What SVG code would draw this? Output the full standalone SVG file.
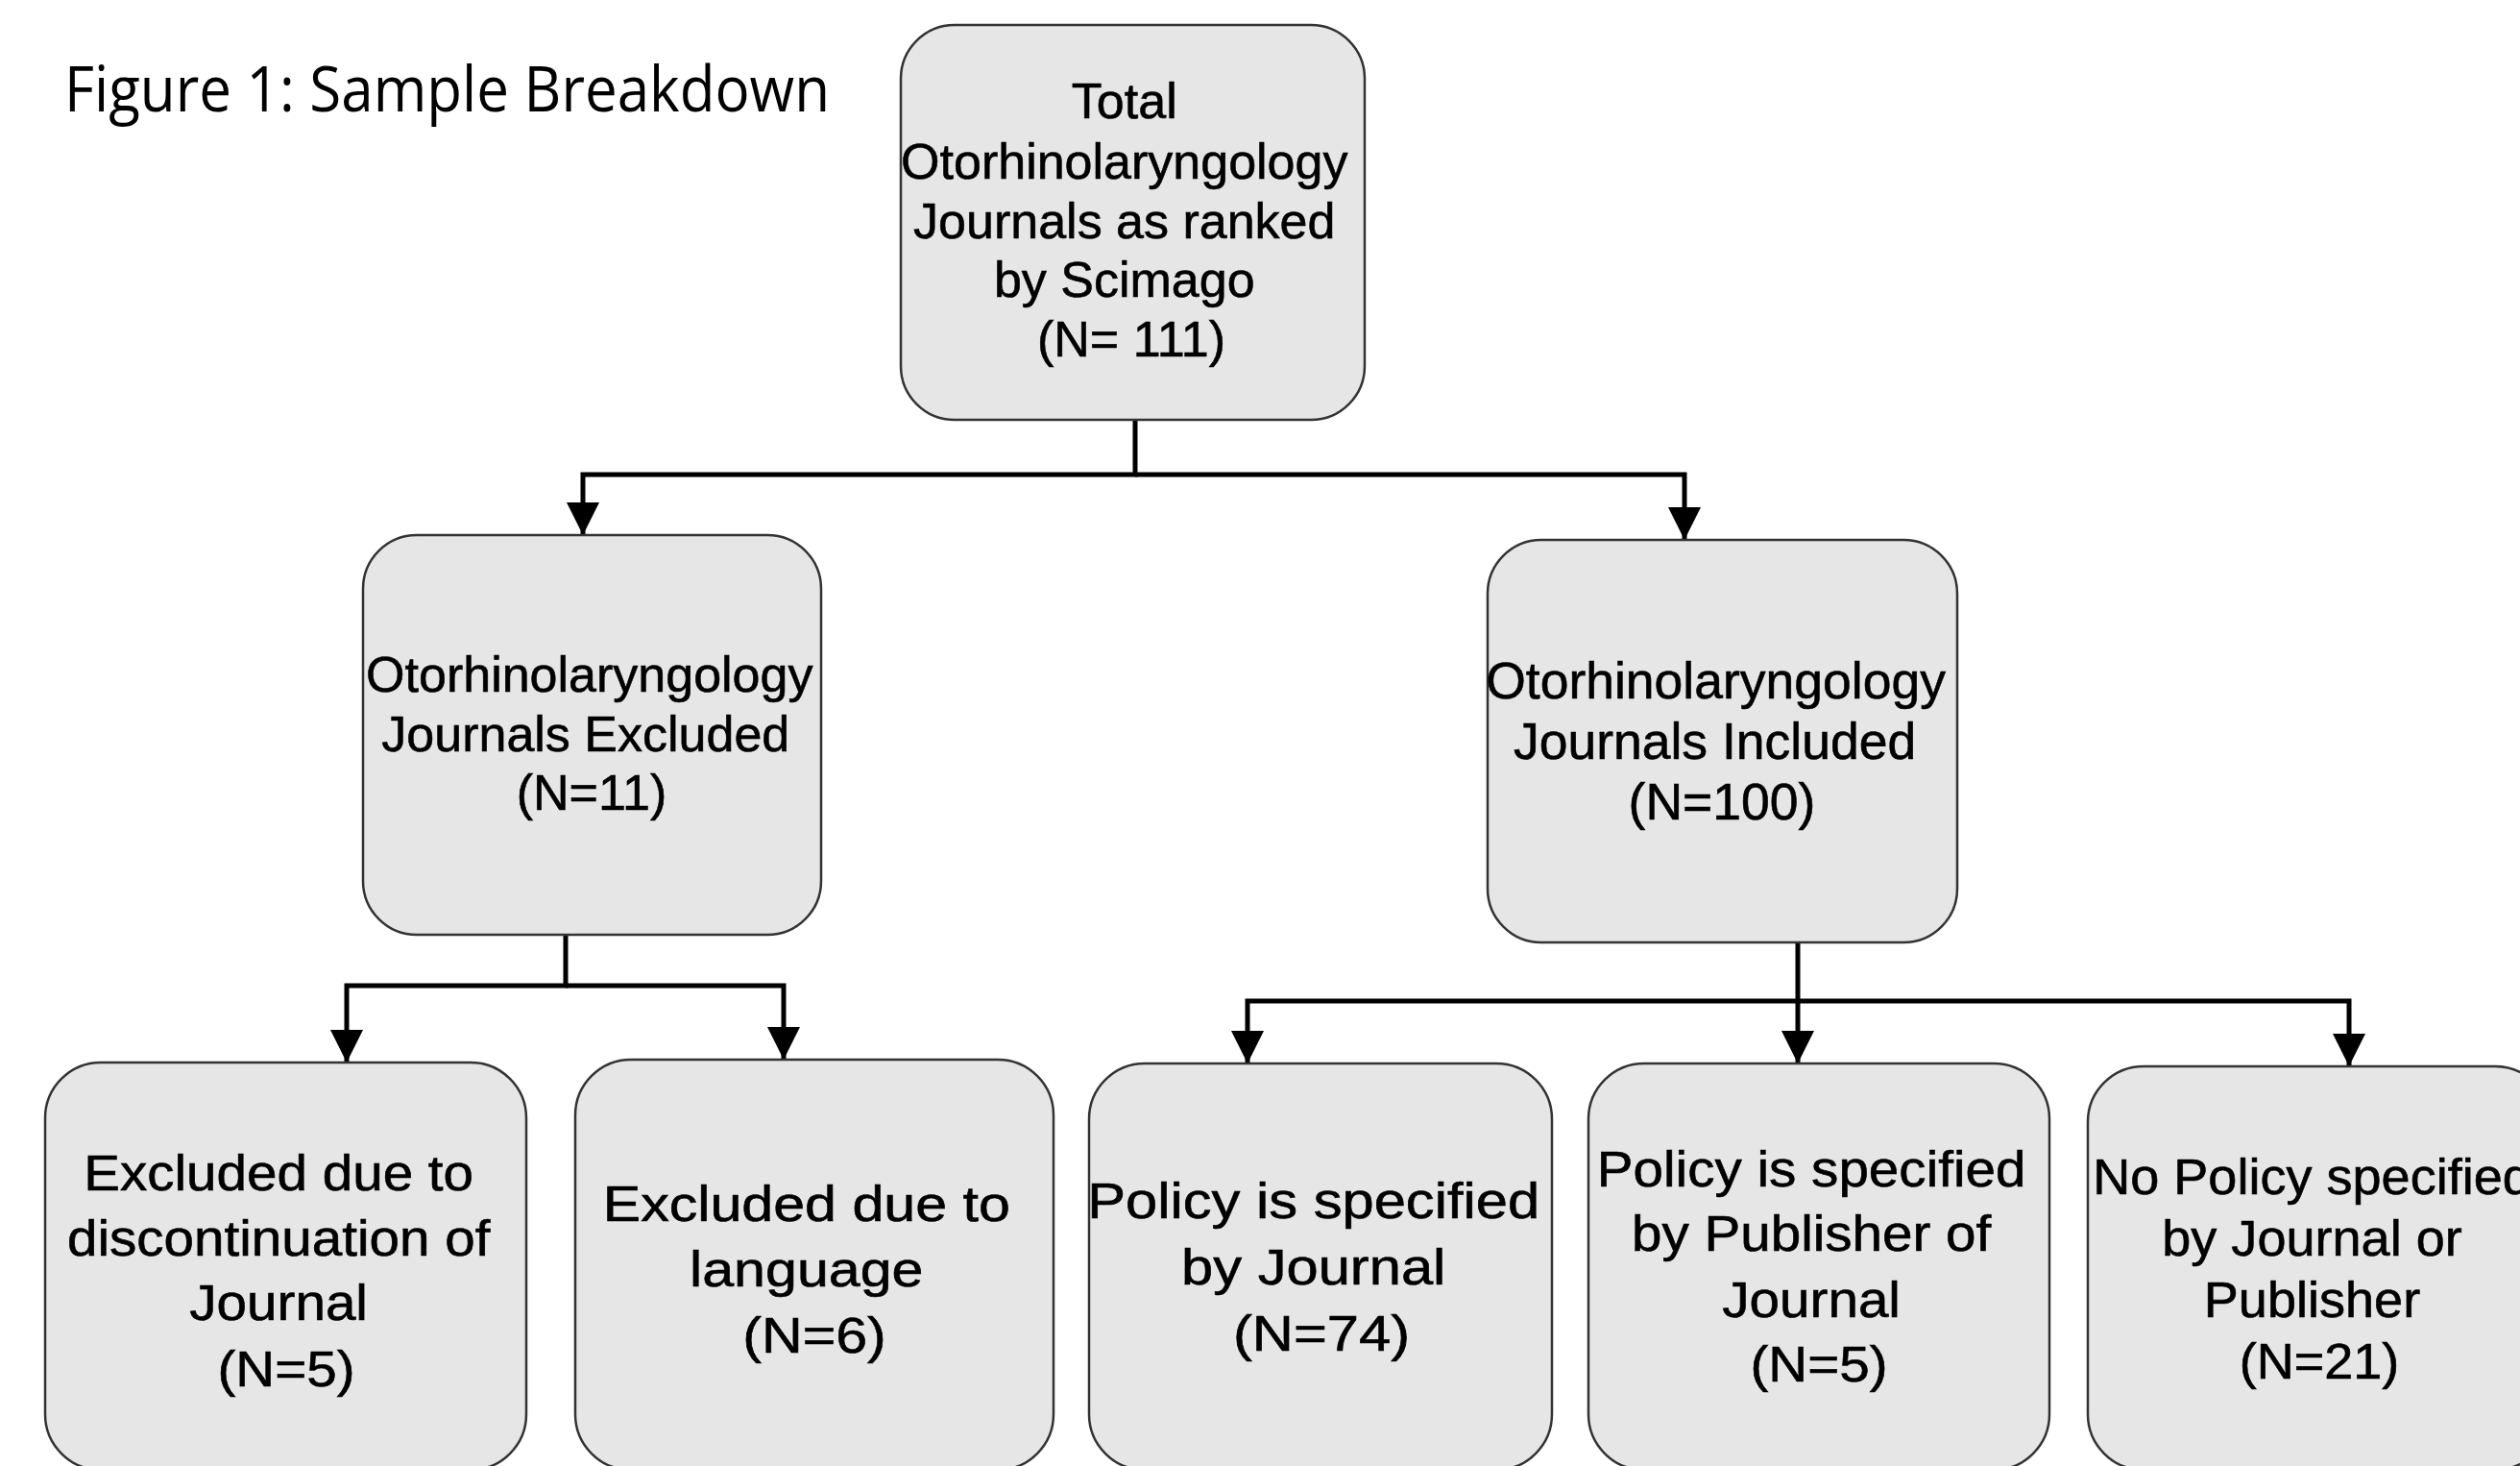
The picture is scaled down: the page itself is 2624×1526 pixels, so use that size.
<svg xmlns="http://www.w3.org/2000/svg" width="2624" height="1526" viewBox="0 0 2624 1526">
  <style>
    .box { fill: #e6e6e6; stroke: #333333; stroke-width: 2.5; }
    .lbl { font-family: "Liberation Sans", Arial, Helvetica, sans-serif; fill: #000000; stroke: #000000; stroke-width: 0.6; text-anchor: middle; }
    .m { font-size: 52px; }
    .b { font-size: 51px; }
    .title { font-family: "Open Sans", "Liberation Sans", sans-serif; font-size: 65px; fill: #000000; }
    .wire { fill: none; stroke: #000000; stroke-width: 5; stroke-linejoin: miter; }
  </style>
  <defs>
    <marker id="arrow" markerUnits="userSpaceOnUse" markerWidth="34" markerHeight="34" refX="34" refY="17" orient="auto">
      <path d="M0,0 L34,17 L0,34 Z" fill="#000000"/>
    </marker>
  </defs>

  <rect x="0" y="0" width="2624" height="1526" fill="#ffffff"/>

  <text class="title" x="67" y="116" textLength="797" lengthAdjust="spacingAndGlyphs">Figure 1: Sample Breakdown</text>

  <!-- connectors -->
  <g id="connectors">
    <path class="wire" d="M1182,437 V494 H607 V557" marker-end="url(#arrow)"/>
    <path class="wire" d="M1182,494 H1754 V562" marker-end="url(#arrow)"/>
    <path class="wire" d="M589,973 V1026 H361 V1106" marker-end="url(#arrow)"/>
    <path class="wire" d="M589,1026 H816 V1103" marker-end="url(#arrow)"/>
    <path class="wire" d="M1872,981 V1042 H1299 V1107" marker-end="url(#arrow)"/>
    <path class="wire" d="M1872,1042 V1107" marker-end="url(#arrow)"/>
    <path class="wire" d="M1872,1042 H2446 V1110" marker-end="url(#arrow)"/>
  </g>

  <!-- top level -->
  <g id="n-total">
    <rect class="box" x="938" y="26" width="483" height="411" rx="56" ry="56"/>
    <text class="lbl m">
      <tspan x="1178" y="123">Total</tspan>
      <tspan x="1178" y="186">Otorhinolaryngology</tspan>
      <tspan x="1178" y="248">Journals as ranked</tspan>
      <tspan x="1178" y="309">by Scimago</tspan>
      <tspan x="1178" y="371">(N= 111)</tspan>
    </text>
  </g>

  <!-- second level -->
  <g id="n-excluded">
    <rect class="box" x="378" y="557" width="477" height="416" rx="56" ry="56"/>
    <text class="lbl m">
      <tspan x="621" y="720">Otorhinolaryngology</tspan>
      <tspan x="617" y="782">Journals Excluded</tspan>
      <tspan x="616" y="843">(N=11)</tspan>
    </text>
  </g>

  <g id="n-included">
    <rect class="box" x="1549" y="562" width="489" height="419" rx="56" ry="56"/>
    <text class="lbl" style="font-size:53.5px">
      <tspan x="1794" y="727">Otorhinolaryngology</tspan>
      <tspan x="1793" y="790">Journals Included</tspan>
      <tspan x="1793" y="853">(N=100)</tspan>
    </text>
  </g>

  <!-- third level -->
  <g id="n-discontinued">
    <rect class="box" x="47" y="1106" width="501" height="424" rx="58" ry="58"/>
    <text class="lbl b" transform="translate(298 0) scale(1.11 1)">
      <tspan x="0" y="1239">Excluded due to</tspan>
      <tspan x="0" y="1307">discontinuation of</tspan>
      <tspan x="0" y="1374">Journal</tspan>
      <tspan x="0" y="1443">(N=5)</tspan>
    </text>
  </g>

  <g id="n-language">
    <rect class="box" x="599" y="1103" width="498" height="427" rx="58" ry="58"/>
    <text class="lbl b" transform="translate(848 0) scale(1.16 1)">
      <tspan x="0" y="1271">Excluded due to</tspan>
      <tspan x="0" y="1339">language</tspan>
      <tspan x="0" y="1408">(N=6)</tspan>
    </text>
  </g>

  <g id="n-journal">
    <rect class="box" x="1134" y="1107" width="482" height="423" rx="58" ry="58"/>
    <text class="lbl b" transform="translate(1376 0) scale(1.17 1)">
      <tspan x="0" y="1268">Policy is specified</tspan>
      <tspan x="0" y="1337">by Journal</tspan>
      <tspan x="0" y="1406">(N=74)</tspan>
    </text>
  </g>

  <g id="n-publisher">
    <rect class="box" x="1654" y="1107" width="480" height="423" rx="58" ry="58"/>
    <text class="lbl b" transform="translate(1894 0) scale(1.11 1)">
      <tspan x="0" y="1235">Policy is specified</tspan>
      <tspan x="0" y="1302">by Publisher of</tspan>
      <tspan x="0" y="1371">Journal</tspan>
      <tspan x="0" y="1438">(N=5)</tspan>
    </text>
  </g>

  <g id="n-none">
    <rect class="box" x="2174" y="1110" width="482" height="420" rx="58" ry="58"/>
    <text class="lbl b" transform="translate(2415 0) scale(1.06 1)">
      <tspan x="0" y="1243">No Policy specified</tspan>
      <tspan x="0" y="1307">by Journal or</tspan>
      <tspan x="0" y="1371">Publisher</tspan>
      <tspan x="0" y="1435">(N=21)</tspan>
    </text>
  </g>
</svg>
